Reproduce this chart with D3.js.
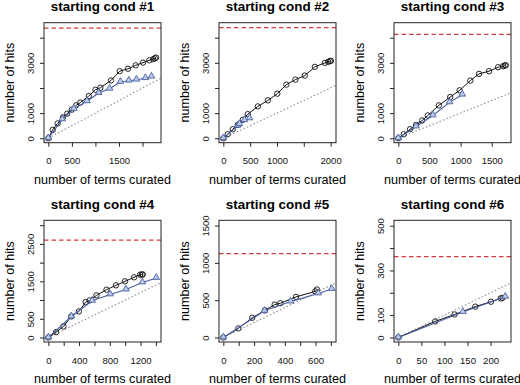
<!DOCTYPE html>
<html>
<head>
<meta charset="utf-8">
<script src="https://cdn.jsdelivr.net/npm/d3@7"></script>
<style>
  body { margin: 0; background: #fff; }
  svg { display: block; font-family: "Liberation Sans", Arial, sans-serif; }
</style>
</head>
<body>
<script>
// values, one pair [terms curated, hits] per point
var titles = ["starting cond #1", "starting cond #2", "starting cond #3",
              "starting cond #4", "starting cond #5", "starting cond #6"];

var circles1 = [[0,0],[92,333],[198,590],[310,830],[400,980],[500,1140],[590,1310],[680,1420],[860,1680],[1000,1930],[1105,2010],[1330,2300],[1515,2667],[1690,2765],[1855,2900],[2010,3010],[2145,3100],[2225,3145],[2262,3180],[2287,3210]];
var triangles1 = [[0,0],[295,750],[540,1170],[820,1470],[1070,1800],[1300,1970],[1530,2240],[1710,2290],[1870,2330],[2060,2390],[2190,2450]];

var circles2 = [[0,0],[81,160],[175,360],[269,533],[363,733],[456,960],[644,1267],[831,1507],[1006,1773],[1175,2133],[1344,2333],[1519,2493],[1706,2840],[1894,3000],[1956,3040],[1988,3067],[2006,3080]];
var triangles2 = [[0,0],[269,500],[300,560],[394,720],[488,790]];

var circles3 = [[0,0],[86,160],[188,360],[285,533],[382,707],[473,907],[651,1307],[833,1640],[984,1907],[1156,2293],[1296,2560],[1457,2667],[1602,2827],[1683,2867],[1710,2893],[1726,2907]];
var triangles3 = [[0,0],[285,467],[554,907],[823,1427],[1027,1733]];

var circles4 = [[0,0],[101,143],[197,295],[298,563],[398,696],[486,946],[538,991],[626,1125],[757,1277],[880,1393],[998,1500],[1116,1607],[1195,1679],[1217,1680],[1230,1685]];
var triangles4 = [[0,0],[299,560],[570,980],[805,1150],[1010,1280],[1225,1470],[1405,1590]];

var circles5 = [[0,0],[98,122],[188,264],[270,362],[334,441],[371,459],[473,544],[598,618],[609,643]];
var triangles5 = [[0,0],[268,357],[438,481],[618,590],[705,650]];

var circles6 = [[0,0],[80,72],[122,103],[167,138],[201,160],[222,175],[226,177]];
var triangles6 = [[0,0],[140,114],[232,182]];

var totalHits = [4380, 4400, 4130, 2600, 1125, 362];
var xMax = [2300, 2020, 1740, 1410, 705, 235];
var yMax = [4420, 4420, 4420, 3010, 1510, 504];

var xTicks = [[0,500,1000,1500,2000], [0,500,1000,1500,2000], [0,500,1000,1500],
              [0,200,400,600,800,1000,1200,1400], [0,100,200,300,400,500,600,700], [0,50,100,150,200]];
var xLabels = [["0","500","","1500",""], ["0","500","1000","","2000"], ["0","500","1000","1500"],
               ["0","","400","","800","","1200",""], ["0","","200","","400","","600",""], ["0","50","100","150","200"]];
var yTicks = [[0,1000,2000,3000,4000], [0,1000,2000,3000,4000], [0,1000,2000,3000,4000],
              [0,500,1000,1500,2000,2500,3000], [0,500,1000,1500], [0,100,200,300,400,500]];
var yLabels = [["0","1000","","3000",""], ["0","1000","","3000",""], ["0","1000","","3000",""],
               ["0","500","","1500","","2500",""], ["0","500","1000","1500"], ["0","100","","300","","500"]];

var circleSets = [circles1, circles2, circles3, circles4, circles5, circles6];
var triangleSets = [triangles1, triangles2, triangles3, triangles4, triangles5, triangles6];

var W = 520, H = 385;
var colLeft = [44, 219, 394], boxW = 117;
var rowTop = [22.7, 220.3], rowH = [120, 121.7];

var svg = d3.select("body").append("svg")
    .attr("width", W)
    .attr("height", H);

var blue = "#4a5fa3", triFill = "#bccbe8";

titles.forEach(function(title, i) {
    var col = i % 3, row = Math.floor(i / 3);
    var left = colLeft[col], top = rowTop[row], h = rowH[row];

    // R style 4% padding on both ends
    var xs = d3.scaleLinear().domain([-0.04 * xMax[i], 1.04 * xMax[i]]).range([0, boxW]);
    var ys = d3.scaleLinear().domain([-0.04 * yMax[i], 1.04 * yMax[i]]).range([h, 0]);

    var g = svg.append("g").attr("transform", "translate(" + left + "," + top + ")");

    g.append("clipPath").attr("id", "clip" + i)
      .append("rect").attr("width", boxW).attr("height", h);

    var plot = g.append("g").attr("clip-path", "url(#clip" + i + ")");

    // total hits
    plot.append("line")
        .attr("x1", 0).attr("x2", boxW)
        .attr("y1", ys(totalHits[i])).attr("y2", ys(totalHits[i]))
        .attr("stroke", "#d63a3a").attr("stroke-width", 1.2)
        .attr("stroke-dasharray", "4.5,3");

    // y = x reference
    plot.append("line")
        .attr("x1", xs(0)).attr("y1", ys(0))
        .attr("x2", xs(xs.domain()[1])).attr("y2", ys(xs.domain()[1]))
        .attr("stroke", "#8c8c8c").attr("stroke-width", 1.1)
        .attr("stroke-dasharray", "1.5,2.2");

    var line = d3.line().x(function(d) { return xs(d[0]); }).y(function(d) { return ys(d[1]); });

    plot.append("path").datum(circleSets[i])
        .attr("d", line).attr("fill", "none")
        .attr("stroke", "#111").attr("stroke-width", 1);

    plot.selectAll(".circ").data(circleSets[i]).enter()
        .append("circle")
        .attr("cx", function(d) { return xs(d[0]); })
        .attr("cy", function(d) { return ys(d[1]); })
        .attr("r", 2.7)
        .attr("fill", "none").attr("stroke", "#111").attr("stroke-width", 0.9);

    plot.append("path").datum(triangleSets[i])
        .attr("d", line).attr("fill", "none")
        .attr("stroke", blue).attr("stroke-width", 1.1);

    var tri = d3.symbol().type(d3.symbolTriangle).size(19);
    plot.selectAll(".tri").data(triangleSets[i]).enter()
        .append("path")
        .attr("d", tri)
        .attr("transform", function(d) { return "translate(" + xs(d[0]) + "," + (ys(d[1]) - 0.5) + ")"; })
        .attr("fill", triFill).attr("stroke", blue).attr("stroke-width", 0.9);

    // box
    g.append("rect").attr("width", boxW).attr("height", h)
        .attr("fill", "none").attr("stroke", "#222").attr("stroke-width", 1);

    // axes
    var xa = g.append("g").attr("transform", "translate(0," + h + ")")
        .call(d3.axisBottom(xs).tickValues(xTicks[i])
            .tickFormat(function(d, k) { return xLabels[i][k]; })
            .tickSize(4).tickSizeOuter(0));
    xa.select(".domain").remove();
    xa.selectAll("line").attr("stroke", "#222");
    xa.selectAll("text").attr("y", 0).attr("dy", 0)
        .attr("transform", "translate(0,21.5)")
        .attr("font-size", 9.5).attr("fill", "#111")
        .style("font-family", "'Liberation Sans', Arial, sans-serif");

    var ya = g.append("g")
        .call(d3.axisLeft(ys).tickValues(yTicks[i])
            .tickFormat(function(d, k) { return yLabels[i][k]; })
            .tickSize(4).tickSizeOuter(0));
    ya.select(".domain").remove();
    ya.selectAll("line").attr("stroke", "#222");
    ya.selectAll("text").attr("x", 0).attr("y", 0).attr("dy", 0)
        .attr("transform", "translate(-10.5,0) rotate(-90)")
        .attr("text-anchor", "middle")
        .attr("font-size", 9.5).attr("fill", "#111")
        .style("font-family", "'Liberation Sans', Arial, sans-serif");

    // titles and axis labels
    g.append("text")
        .attr("x", boxW / 2).attr("y", -11.5)
        .attr("text-anchor", "middle")
        .attr("font-size", 13.4).attr("font-weight", "bold")
        .text(title);

    g.append("text")
        .attr("x", boxW / 2).attr("y", h + 41)
        .attr("text-anchor", "middle")
        .attr("font-size", 12.6)
        .text("number of terms curated");

    g.append("text")
        .attr("transform", "translate(-30," + (h / 2) + ") rotate(-90)")
        .attr("text-anchor", "middle")
        .attr("font-size", 12.6)
        .text("number of hits");
});
</script>
</body>
</html>
